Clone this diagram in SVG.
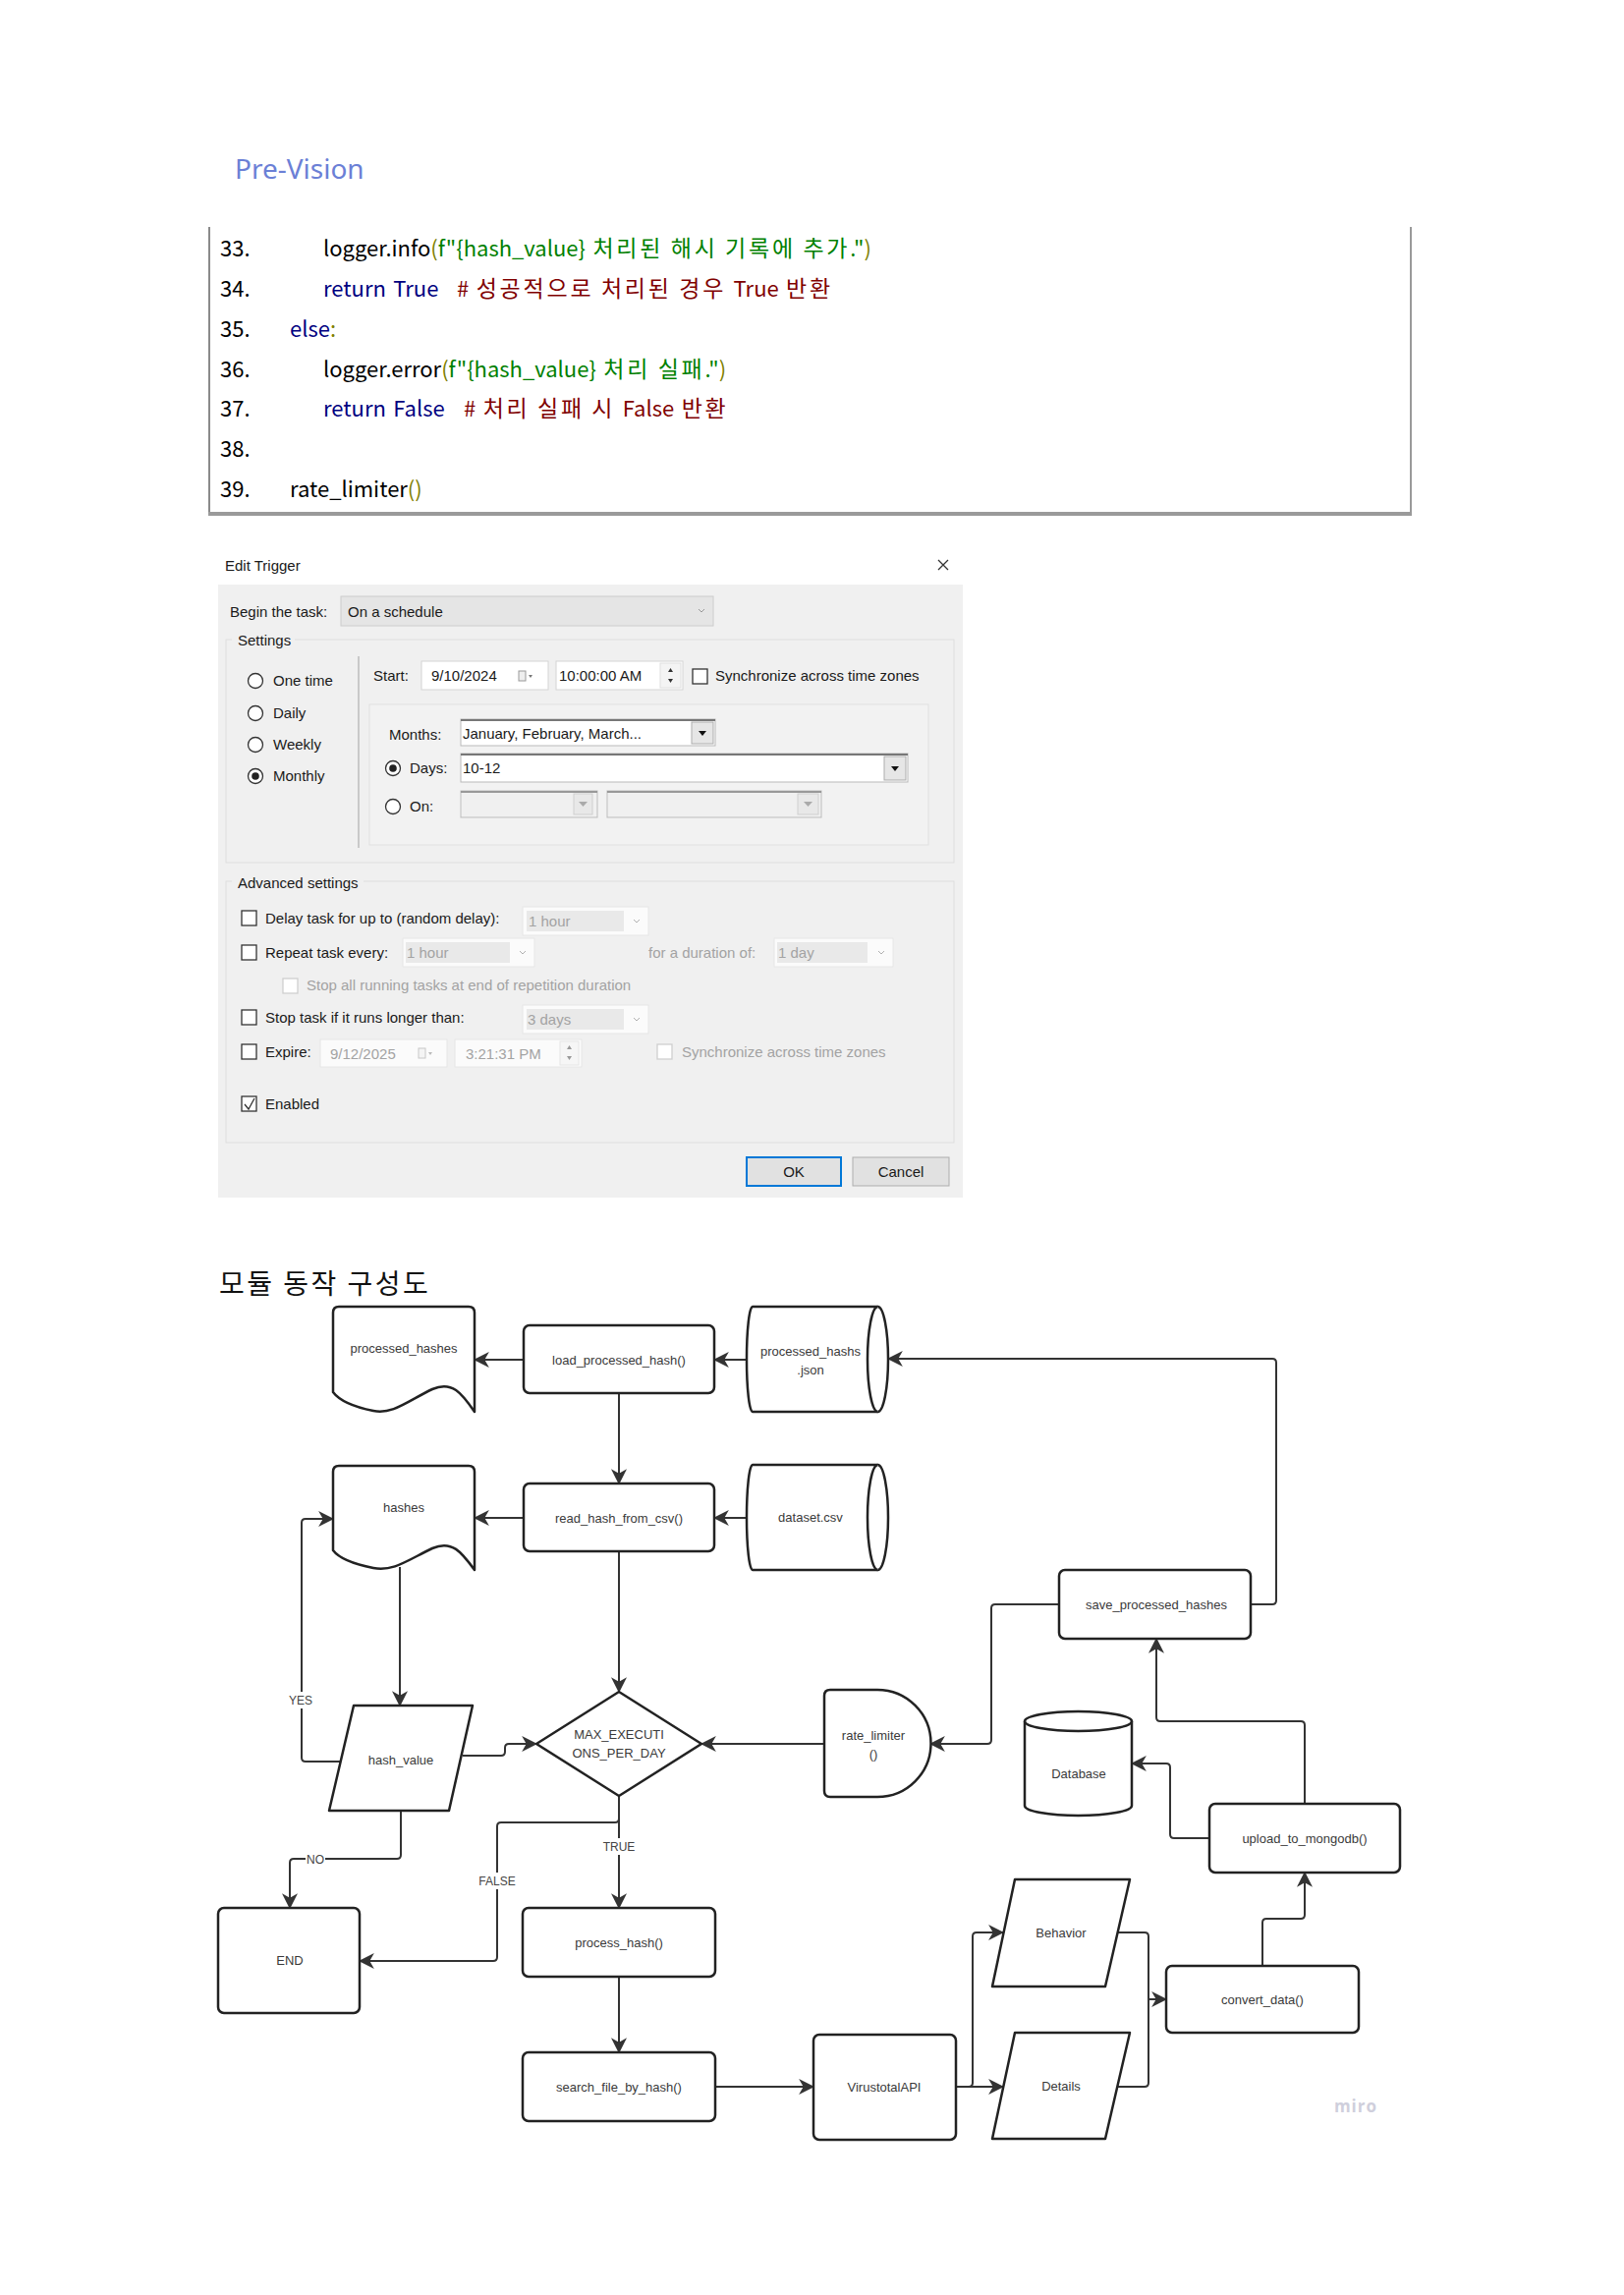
<svg xmlns="http://www.w3.org/2000/svg" width="1653" height="2336" viewBox="0 0 1653 2336">
<style>
.code{font-family:"Noto Sans CJK KR","Liberation Sans",sans-serif;font-size:22px;fill:#000;word-spacing:2.5px}
.k{letter-spacing:2.8px;font-size:23px}
.ol{fill:#808000}.gr{fill:#008000}.nv{fill:#000080}.dr{fill:#800000}
.dt{font-family:"Liberation Sans",Arial,sans-serif;font-size:15px;fill:#1a1a1a}
.dg{font-family:"Liberation Sans",Arial,sans-serif;font-size:15px;fill:#a3a3a3}
.grp{fill:none;stroke:#dedede;stroke-width:1}
.rb{fill:#fff;stroke:#333;stroke-width:1.3}
.cb{fill:#fff;stroke:#333;stroke-width:1.3}
.cbg{fill:#fff;stroke:#cfcfcf;stroke-width:1.3}
.box{fill:#fff;stroke:#d4d4d4;stroke-width:1}
.nd{fill:#fff;stroke:#222;stroke-width:2.5;stroke-linejoin:round}
.lb{font-family:"Liberation Sans",Arial,sans-serif;font-size:13px;fill:#3a3a3a;text-anchor:middle}
.cn{fill:none;stroke:#333;stroke-width:2;stroke-linejoin:round;marker-end:url(#ah)}
.cn0{fill:none;stroke:#333;stroke-width:2;stroke-linejoin:round}
.cl{font-family:"Liberation Sans",Arial,sans-serif;font-size:12px;fill:#444;text-anchor:middle}
</style>
<defs>
<marker id="ah" markerUnits="userSpaceOnUse" markerWidth="16" markerHeight="16" viewBox="0 0 14 14" refX="13" refY="7" orient="auto">
<path d="M0,0 L14,7 L0,14 L4,7 Z" fill="#333"/>
</marker>
</defs>
<rect width="1653" height="2336" fill="#fff"/>

<!-- header -->
<text x="239" y="182" font-family="Noto Sans, Liberation Sans, sans-serif" font-size="28" fill="#6b80d6">Pre-Vision</text>

<!-- code box -->
<g id="code">
<line x1="213" y1="231" x2="213" y2="523" stroke="#8a8a8a" stroke-width="2"/>
<line x1="1436" y1="231" x2="1436" y2="523" stroke="#9a9a9a" stroke-width="2"/>
<line x1="212" y1="523" x2="1437" y2="523" stroke="#9a9a9a" stroke-width="4"/>
<text class="code" x="224" y="261">33.</text>
<text class="code" x="329" y="261">logger.info<tspan class="ol">(</tspan><tspan class="gr">f"{hash_value} <tspan class="k">처리된</tspan> <tspan class="k">해시</tspan> <tspan class="k">기록에</tspan> <tspan class="k">추가</tspan>."</tspan><tspan class="ol">)</tspan></text>
<text class="code" x="224" y="302">34.</text>
<text class="code" x="329" y="302"><tspan class="nv">return True</tspan></text>
<text class="code dr" x="465" y="302"># <tspan class="k">성공적으로</tspan> <tspan class="k">처리된</tspan> <tspan class="k">경우</tspan> True <tspan class="k">반환</tspan></text>
<text class="code" x="224" y="343">35.</text>
<text class="code" x="295" y="343"><tspan class="nv">else</tspan><tspan class="ol">:</tspan></text>
<text class="code" x="224" y="384">36.</text>
<text class="code" x="329" y="384">logger.error<tspan class="ol">(</tspan><tspan class="gr">f"{hash_value} <tspan class="k">처리</tspan> <tspan class="k">실패</tspan>."</tspan><tspan class="ol">)</tspan></text>
<text class="code" x="224" y="424">37.</text>
<text class="code" x="329" y="424"><tspan class="nv">return False</tspan></text>
<text class="code dr" x="472" y="424"># <tspan class="k">처리</tspan> <tspan class="k">실패</tspan> <tspan class="k">시</tspan> False <tspan class="k">반환</tspan></text>
<text class="code" x="224" y="465">38.</text>
<text class="code" x="224" y="506">39.</text>
<text class="code" x="295" y="506">rate_limiter<tspan class="ol">()</tspan></text>
</g>

<!-- dialog -->
<g id="dialog">
<text class="dt" x="229" y="581" font-size="14">Edit Trigger</text>
<path d="M955,570 L965,580 M965,570 L955,580" stroke="#333" stroke-width="1.3"/>
<rect x="222" y="595" width="758" height="624" fill="#f0f0f0"/>
<text class="dt" x="234" y="628">Begin the task:</text>
<rect x="347" y="607" width="379" height="30" fill="#e5e5e5" stroke="#cccccc"/>
<text class="dt" x="354" y="628">On a schedule</text>
<path d="M711,620 L714,623 L717,620" fill="none" stroke="#999" stroke-width="1"/>
<rect class="grp" x="230" y="651" width="741" height="227"/>
<rect x="236" y="643" width="64" height="16" fill="#f0f0f0"/>
<text class="dt" x="242" y="657">Settings</text>
<circle class="rb" cx="260" cy="693" r="7.5"/><text class="dt" x="278" y="698">One time</text>
<circle class="rb" cx="260" cy="726" r="7.5"/><text class="dt" x="278" y="731">Daily</text>
<circle class="rb" cx="260" cy="758" r="7.5"/><text class="dt" x="278" y="763">Weekly</text>
<circle class="rb" cx="260" cy="790" r="7.5"/><circle cx="260" cy="790" r="3.8" fill="#222"/><text class="dt" x="278" y="795">Monthly</text>
<line x1="365" y1="668" x2="365" y2="863" stroke="#bdbdbd" stroke-width="1.5"/>
<text class="dt" x="380" y="693">Start:</text>
<rect class="box" x="429" y="673" width="129" height="29"/>
<text class="dt" x="439" y="693">9/10/2024</text>
<rect x="528" y="683" width="7" height="10" fill="#eee" stroke="#999" stroke-width="1"/>
<path d="M538,687 L542,687 L540,690 Z" fill="#777"/>
<rect class="box" x="566" y="673" width="129" height="29"/>
<text class="dt" x="569" y="693">10:00:00 AM</text>
<rect x="672" y="675" width="21" height="25" fill="#f4f4f4" stroke="#e0e0e0"/>
<path d="M680,684 L685,684 L682.5,680 Z M680,691 L685,691 L682.5,695 Z" fill="#333"/>
<rect class="cb" x="705" y="681" width="15" height="15"/>
<text class="dt" x="728" y="693">Synchronize across time zones</text>
<rect x="376" y="717" width="569" height="143" fill="#f2f2f2" stroke="#e0e0e0"/>
<text class="dt" x="396" y="753">Months:</text>
<rect x="469" y="732" width="259" height="27" fill="#fff" stroke="#b9b9b9"/>
<line x1="469" y1="733" x2="728" y2="733" stroke="#777" stroke-width="2"/>
<text class="dt" x="471" y="752">January, February, March...</text>
<rect x="704" y="735" width="22" height="22" fill="#e6e6e6" stroke="#adadad"/>
<path d="M711,744 L719,744 L715,749 Z" fill="#111"/>
<circle class="rb" cx="400" cy="782" r="7.5"/><circle cx="400" cy="782" r="3.8" fill="#222"/>
<text class="dt" x="417" y="787">Days:</text>
<rect x="469" y="767" width="455" height="29" fill="#fff" stroke="#b9b9b9"/>
<line x1="469" y1="768" x2="924" y2="768" stroke="#777" stroke-width="2"/>
<text class="dt" x="471" y="787">10-12</text>
<rect x="900" y="770" width="22" height="24" fill="#e6e6e6" stroke="#adadad"/>
<path d="M907,780 L915,780 L911,785 Z" fill="#111"/>
<circle class="rb" cx="400" cy="821" r="7.5"/>
<text class="dt" x="417" y="826">On:</text>
<rect x="469" y="805" width="139" height="27" fill="#f0f0f0" stroke="#bdbdbd"/>
<line x1="469" y1="806" x2="608" y2="806" stroke="#999" stroke-width="2"/>
<rect x="584" y="808" width="19" height="21" fill="#e8e8e8" stroke="#cfcfcf"/>
<path d="M589,816 L598,816 L593.5,821 Z" fill="#aaa"/>
<rect x="618" y="805" width="218" height="27" fill="#f0f0f0" stroke="#bdbdbd"/>
<line x1="618" y1="806" x2="836" y2="806" stroke="#999" stroke-width="2"/>
<rect x="812" y="808" width="21" height="21" fill="#e8e8e8" stroke="#cfcfcf"/>
<path d="M818,816 L827,816 L822.5,821 Z" fill="#aaa"/>

<rect class="grp" x="230" y="897" width="741" height="266"/>
<rect x="236" y="889" width="134" height="16" fill="#f0f0f0"/>
<text class="dt" x="242" y="904">Advanced settings</text>

<rect class="cb" x="246" y="927" width="15" height="15"/>
<text class="dt" x="270" y="940">Delay task for up to (random delay):</text>
<rect x="532" y="923" width="128" height="29" fill="#fbfbfb" stroke="#e6e6e6"/>
<rect x="536" y="927" width="99" height="21" fill="#e9e9e9"/>
<text class="dg" x="538" y="943">1 hour</text>
<path d="M645,936 L648,939 L651,936" fill="none" stroke="#b0b0b0"/>

<rect class="cb" x="246" y="962" width="15" height="15"/>
<text class="dt" x="270" y="975">Repeat task every:</text>
<rect x="410" y="955" width="134" height="29" fill="#fbfbfb" stroke="#e6e6e6"/>
<rect x="413" y="959" width="106" height="21" fill="#e9e9e9"/>
<text class="dg" x="414" y="975">1 hour</text>
<path d="M529,968 L532,971 L535,968" fill="none" stroke="#b0b0b0"/>
<text class="dg" x="660" y="975">for a duration of:</text>
<rect x="788" y="955" width="121" height="29" fill="#fbfbfb" stroke="#e6e6e6"/>
<rect x="791" y="959" width="92" height="21" fill="#e9e9e9"/>
<text class="dg" x="792" y="975">1 day</text>
<path d="M894,968 L897,971 L900,968" fill="none" stroke="#b0b0b0"/>

<rect class="cbg" x="288" y="996" width="15" height="15"/>
<text class="dg" x="312" y="1008">Stop all running tasks at end of repetition duration</text>

<rect class="cb" x="246" y="1028" width="15" height="15"/>
<text class="dt" x="270" y="1041">Stop task if it runs longer than:</text>
<rect x="532" y="1023" width="128" height="29" fill="#fbfbfb" stroke="#e6e6e6"/>
<rect x="536" y="1027" width="99" height="21" fill="#e9e9e9"/>
<text class="dg" x="537" y="1043">3 days</text>
<path d="M645,1036 L648,1039 L651,1036" fill="none" stroke="#b0b0b0"/>

<rect class="cb" x="246" y="1063" width="15" height="15"/>
<text class="dt" x="270" y="1076">Expire:</text>
<rect x="326" y="1058" width="129" height="28" fill="#fbfbfb" stroke="#e6e6e6"/>
<text class="dg" x="336" y="1078">9/12/2025</text>
<rect x="426" y="1067" width="7" height="10" fill="#f4f4f4" stroke="#c8c8c8" stroke-width="1"/>
<path d="M436,1071 L440,1071 L438,1074 Z" fill="#bbb"/>
<rect x="463" y="1058" width="129" height="28" fill="#fbfbfb" stroke="#e6e6e6"/>
<text class="dg" x="474" y="1078">3:21:31 PM</text>
<rect x="570" y="1060" width="19" height="24" fill="#f6f6f6" stroke="#e6e6e6"/>
<path d="M577,1068 L582,1068 L579.5,1064 Z M577,1075 L582,1075 L579.5,1079 Z" fill="#999"/>
<rect class="cbg" x="669" y="1063" width="15" height="15"/>
<text class="dg" x="694" y="1076">Synchronize across time zones</text>

<rect class="cb" x="246" y="1116" width="15" height="15"/>
<path d="M249,1124 L253,1129 L259,1118" fill="none" stroke="#333" stroke-width="1.3"/>
<text class="dt" x="270" y="1129">Enabled</text>

<rect x="760" y="1178" width="96" height="29" fill="#e1e1e1" stroke="#0078d7" stroke-width="2"/>
<text class="dt" x="808" y="1198" text-anchor="middle">OK</text>
<rect x="868" y="1178" width="98" height="29" fill="#e1e1e1" stroke="#adadad"/>
<text class="dt" x="917" y="1198" text-anchor="middle">Cancel</text>
</g>

<!-- flowchart title -->
<text x="223" y="1317" font-family="Noto Sans CJK KR, sans-serif" font-size="28" letter-spacing="2.5" fill="#111">모듈 동작 구성도</text>

<!-- connectors -->
<g id="connectors">
<path class="cn" d="M760,1384 H727"/>
<path class="cn" d="M533,1384 H483"/>
<path class="cn" d="M1273,1633 H1295 Q1299,1633 1299,1629 V1387 Q1299,1383 1295,1383 H904"/>
<path class="cn" d="M630,1418 V1510"/>
<path class="cn" d="M760,1545 H727"/>
<path class="cn" d="M533,1545 H483"/>
<path class="cn" d="M630,1579 V1722"/>
<path class="cn" d="M407,1595 V1736"/>
<path class="cn" d="M347,1793 H311 Q307,1793 307,1789 V1550 Q307,1546 311,1546 H339"/>
<path class="cn" d="M471,1787 H510 Q514,1787 514,1783 V1779 Q514,1775 518,1775 H546"/>
<path class="cn" d="M408,1843 V1888 Q408,1892 404,1892 H299 Q295,1892 295,1896 V1942"/>
<path class="cn" d="M630,1828 V1851 Q630,1855 626,1855 H510 Q506,1855 506,1859 V1992 Q506,1996 502,1996 H366"/>
<path class="cn" d="M630,1828 V1942"/>
<path class="cn" d="M839,1775 H714"/>
<path class="cn" d="M1078,1633 H1013 Q1009,1633 1009,1637 V1771 Q1009,1775 1005,1775 H947"/>
<path class="cn" d="M1231,1871 H1195 Q1191,1871 1191,1867 V1799 Q1191,1795 1187,1795 H1152"/>
<path class="cn" d="M1328,1836 V1756 Q1328,1752 1324,1752 H1181 Q1177,1752 1177,1748 V1668"/>
<path class="cn" d="M630,2012 V2089"/>
<path class="cn" d="M728,2124 H828"/>
<path class="cn" d="M972,2124 H986 Q990,2124 990,2120 V1971 Q990,1967 994,1967 H1021"/>
<path class="cn" d="M972,2124 H1021"/>
<path class="cn0" d="M1138,1967 H1165 Q1169,1967 1169,1971 V2035"/>
<path class="cn0" d="M1138,2124 H1165 Q1169,2124 1169,2120 V2035"/>
<path class="cn" d="M1169,2035 H1187"/>
<path class="cn" d="M1285,2001 V1957 Q1285,1953 1289,1953 H1324 Q1328,1953 1328,1949 V1906"/>
<rect x="294" y="1722" width="24" height="17" fill="#fff"/>
<text class="cl" x="306" y="1735">YES</text>
<rect x="311" y="1884" width="20" height="17" fill="#fff"/>
<text class="cl" x="321" y="1897">NO</text>
<rect x="490" y="1906" width="32" height="17" fill="#fff"/>
<text class="cl" x="506" y="1919">FALSE</text>
<rect x="615" y="1871" width="30" height="17" fill="#fff"/>
<text class="cl" x="630" y="1884">TRUE</text>
</g>

<!-- nodes -->
<g id="n-processed-hashes">
<path class="nd" d="M339,1336 Q339,1330 345,1330 H477 Q483,1330 483,1336 V1437 C470,1418 460,1405 440,1414 C415,1426 400,1440 380,1436 C360,1432 345,1425 339,1417 Z"/>
<text class="lb" x="411" y="1377">processed_hashes</text>
</g>
<g id="n-load">
<rect class="nd" x="533" y="1349" width="194" height="69" rx="6"/>
<text class="lb" x="630" y="1389">load_processed_hash()</text>
</g>
<g id="n-json">
<path class="nd" d="M766,1330 H893.5 A10.5,53.5 0 0 1 893.5,1437 H766 A6,53.5 0 0 1 766,1330 Z"/>
<path class="nd" fill="none" d="M893.5,1330 A10.5,53.5 0 0 0 893.5,1437"/>
<text class="lb" x="825" y="1380">processed_hashs</text>
<text class="lb" x="825" y="1399">.json</text>
</g>
<g id="n-hashes">
<path class="nd" d="M339,1498 Q339,1492 345,1492 H477 Q483,1492 483,1498 V1598 C470,1580 460,1567 440,1576 C415,1588 400,1600 380,1596 C360,1592 345,1586 339,1578 Z"/>
<text class="lb" x="411" y="1539">hashes</text>
</g>
<g id="n-read">
<rect class="nd" x="533" y="1510" width="194" height="69" rx="6"/>
<text class="lb" x="630" y="1550">read_hash_from_csv()</text>
</g>
<g id="n-dataset">
<path class="nd" d="M766,1491 H893.5 A10.5,53.5 0 0 1 893.5,1598 H766 A6,53.5 0 0 1 766,1491 Z"/>
<path class="nd" fill="none" d="M893.5,1491 A10.5,53.5 0 0 0 893.5,1598"/>
<text class="lb" x="825" y="1549">dataset.csv</text>
</g>
<g id="n-save">
<rect class="nd" x="1078" y="1598" width="195" height="70" rx="6"/>
<text class="lb" x="1177" y="1638">save_processed_hashes</text>
</g>
<g id="n-hash-value">
<path class="nd" d="M360,1736 H481 L457,1843 H335 Z"/>
<text class="lb" x="408" y="1796">hash_value</text>
</g>
<g id="n-max">
<path class="nd" d="M630,1722 L714,1775 L630,1828 L546,1775 Z"/>
<text class="lb" x="630" y="1770">MAX_EXECUTI</text>
<text class="lb" x="630" y="1789">ONS_PER_DAY</text>
</g>
<g id="n-rate">
<path class="nd" d="M845,1720 H893 A54.5,54.5 0 0 1 893,1829 H845 Q839,1829 839,1823 V1726 Q839,1720 845,1720 Z"/>
<text class="lb" x="889" y="1771">rate_limiter</text>
<text class="lb" x="889" y="1790">()</text>
</g>
<g id="n-database">
<path class="nd" d="M1043,1752 A54.5,10 0 0 1 1152,1752 V1838 A54.5,10 0 0 1 1043,1838 Z"/>
<path class="nd" fill="none" d="M1043,1752 A54.5,10 0 0 0 1152,1752"/>
<text class="lb" x="1098" y="1810">Database</text>
</g>
<g id="n-upload">
<rect class="nd" x="1231" y="1836" width="194" height="70" rx="6"/>
<text class="lb" x="1328" y="1876">upload_to_mongodb()</text>
</g>
<g id="n-end">
<rect class="nd" x="222" y="1942" width="144" height="107" rx="6"/>
<text class="lb" x="295" y="2000">END</text>
</g>
<g id="n-process">
<rect class="nd" x="532" y="1942" width="196" height="70" rx="6"/>
<text class="lb" x="630" y="1982">process_hash()</text>
</g>
<g id="n-search">
<rect class="nd" x="532" y="2089" width="196" height="70" rx="6"/>
<text class="lb" x="630" y="2129">search_file_by_hash()</text>
</g>
<g id="n-virustotal">
<rect class="nd" x="828" y="2071" width="145" height="107" rx="6"/>
<text class="lb" x="900" y="2129">VirustotalAPI</text>
</g>
<g id="n-behavior">
<path class="nd" d="M1033,1913 H1150 L1125,2022 H1010 Z"/>
<text class="lb" x="1080" y="1972">Behavior</text>
</g>
<g id="n-details">
<path class="nd" d="M1033,2069 H1150 L1125,2177 H1010 Z"/>
<text class="lb" x="1080" y="2128">Details</text>
</g>
<g id="n-convert">
<rect class="nd" x="1187" y="2001" width="196" height="68" rx="6"/>
<text class="lb" x="1285" y="2040">convert_data()</text>
</g>
<text x="1380" y="2150" font-family="Open Sans, Liberation Sans, sans-serif" font-size="17" font-weight="bold" fill="#cfcfdc" text-anchor="middle" letter-spacing="1">miro</text>
</svg>
